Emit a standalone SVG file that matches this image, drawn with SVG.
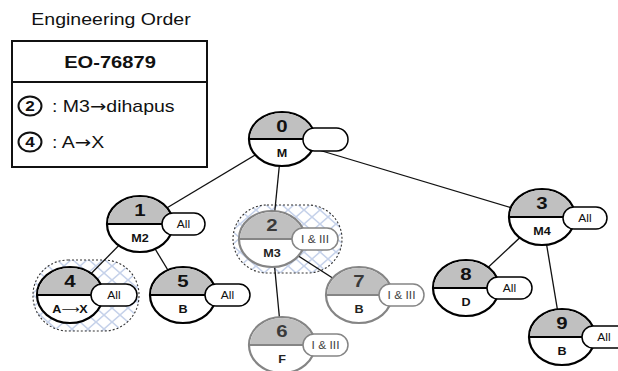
<svg xmlns="http://www.w3.org/2000/svg" width="618" height="371" viewBox="0 0 618 371">
  <defs>
    <!-- light blue diamond lattice used for the highlighted nodes -->
    <pattern id="lattice" patternUnits="userSpaceOnUse" width="16" height="14">
      <path d="M0,0 L16,14 M16,0 L0,14" stroke="#c6d2ea" stroke-width="1.6" fill="none"/>
    </pattern>
  </defs>
  <style>
    text { font-family: "Liberation Sans", Arial, sans-serif; }
    .arrow { font-family: "DejaVu Sans", sans-serif; font-weight: normal; }
    .title { font-size: 16px; fill: #111; text-anchor: middle; }
    .eo-head { font-size: 16.5px; font-weight: bold; fill: #111; text-anchor: middle; }
    .eo-row { font-size: 16px; fill: #111; }
    .eo-num { font-size: 14px; font-weight: bold; fill: #111; text-anchor: middle; }
    .box { fill: #fff; stroke: #111; stroke-width: 2; }
    .edge { stroke: #111; stroke-width: 1.3; fill: none; }
    .zone { fill: url(#lattice); stroke: #333; stroke-width: 1.1; stroke-dasharray: 2 2; }
    .body { fill: #fff; stroke: #000; stroke-width: 2.2; }
    .cap { fill: #c0c0c0; }
    .split { stroke: #000; stroke-width: 2.2; }
    .num { font-size: 17px; font-weight: bold; text-anchor: middle; fill: #111; }
    .lbl { font-size: 10.5px; font-weight: bold; text-anchor: middle; fill: #111; }
    .pill { fill: #fff; stroke: #000; stroke-width: 1.5; }
    .ptxt { font-size: 10px; text-anchor: middle; fill: #111; }
    .dim .body { stroke: #858585; }
    .dim .split { stroke: #858585; }
    .dim .pill { stroke: #858585; }
    .dim .num { fill: #3a3a3a; }
    .dim .lbl { fill: #222; }
    .dim .ptxt { fill: #444; }
  </style>

  <!-- order legend -->
  <g id="legend">
    <text class="title" transform="translate(111 25) scale(1.22 1)">Engineering Order</text>
    <rect class="box" x="12" y="41" width="195" height="126"/>
    <line x1="12" y1="82" x2="207" y2="82" stroke="#111" stroke-width="2"/>
    <text class="eo-head" transform="translate(110 68) scale(1.22 1)">EO-76879</text>
    <ellipse cx="30" cy="106" rx="11.5" ry="9.5" fill="#fff" stroke="#111" stroke-width="2"/>
    <text class="eo-num" transform="translate(30 111) scale(1.22 1)">2</text>
    <text class="eo-row" transform="translate(52 112) scale(1.22 1)">: M3<tspan class="arrow">→</tspan>dihapus</text>
    <ellipse cx="30" cy="142" rx="11.5" ry="9.5" fill="#fff" stroke="#111" stroke-width="2"/>
    <text class="eo-num" transform="translate(30 147) scale(1.22 1)">4</text>
    <text class="eo-row" transform="translate(52 148) scale(1.22 1)">: A<tspan class="arrow">→</tspan>X</text>
  </g>

  <!-- highlighted zones -->
  <g id="zones">
    <rect class="zone" x="33" y="260" width="106" height="71" rx="35" ry="35"/>
    <rect class="zone" x="233" y="205" width="109" height="68" rx="34" ry="34"/>
  </g>

  <!-- connectors -->
  <g id="connectors">
    <line class="edge" x1="282" y1="139" x2="140" y2="224"/>
    <line class="edge" x1="282" y1="139" x2="272" y2="239"/>
    <line class="edge" x1="282" y1="139" x2="542" y2="217"/>
    <line class="edge" x1="140" y1="224" x2="70" y2="295"/>
    <line class="edge" x1="140" y1="224" x2="183" y2="295"/>
    <line class="edge" x1="272" y1="239" x2="282" y2="345"/>
    <line class="edge" x1="272" y1="239" x2="359" y2="295"/>
    <line class="edge" x1="542" y1="217" x2="466" y2="288"/>
    <line class="edge" x1="542" y1="217" x2="562" y2="337"/>
  </g>

  <!-- nodes -->
  <g id="node0">
    <ellipse class="body" cx="282" cy="139" rx="33" ry="27"/>
    <path class="cap" d="M250,139 A32,26 0 0 1 314,139 Z"/>
    <line class="split" x1="249" y1="139" x2="315" y2="139"/>
    <text class="num" transform="translate(282 132) scale(1.2 1)">0</text>
    <text class="lbl" transform="translate(282 157) scale(1.2 1)">M</text>
    <rect class="pill" x="303" y="128" width="45" height="23" rx="11.5"/>
  </g>

  <g id="node1">
    <ellipse class="body" cx="140" cy="224" rx="33" ry="28"/>
    <path class="cap" d="M108,224 A32,27 0 0 1 172,224 Z"/>
    <line class="split" x1="107" y1="224" x2="173" y2="224"/>
    <text class="num" transform="translate(140 216) scale(1.2 1)">1</text>
    <text class="lbl" transform="translate(140 242) scale(1.2 1)">M2</text>
    <rect class="pill" x="162" y="213" width="43" height="22" rx="11"/>
    <text class="ptxt" transform="translate(183.5 228) scale(1.2 1)">All</text>
  </g>

  <g id="node2" class="dim">
    <ellipse class="body" cx="272" cy="239" rx="33" ry="28"/>
    <path class="cap" d="M240,239 A32,27 0 0 1 304,239 Z"/>
    <line class="split" x1="239" y1="239" x2="305" y2="239"/>
    <text class="num" transform="translate(272 231) scale(1.2 1)">2</text>
    <text class="lbl" transform="translate(272 257) scale(1.2 1)">M3</text>
    <rect class="pill" x="292" y="228" width="46" height="22" rx="11"/>
    <text class="ptxt" transform="translate(315 243) scale(1.2 1)">I &amp; III</text>
  </g>

  <g id="node3">
    <ellipse class="body" cx="542" cy="217" rx="33" ry="28"/>
    <path class="cap" d="M510,217 A32,27 0 0 1 574,217 Z"/>
    <line class="split" x1="509" y1="217" x2="575" y2="217"/>
    <text class="num" transform="translate(542 209) scale(1.2 1)">3</text>
    <text class="lbl" transform="translate(542 235) scale(1.2 1)">M4</text>
    <rect class="pill" x="563" y="207" width="44" height="22" rx="11"/>
    <text class="ptxt" transform="translate(585 222) scale(1.2 1)">All</text>
  </g>

  <g id="node4">
    <ellipse class="body" cx="70" cy="295" rx="33" ry="28"/>
    <path class="cap" d="M38,295 A32,27 0 0 1 102,295 Z"/>
    <line class="split" x1="37" y1="295" x2="103" y2="295"/>
    <text class="num" transform="translate(70 287) scale(1.2 1)">4</text>
    <text class="lbl" transform="translate(70 313) scale(1.2 1)">A<tspan class="arrow">⟶</tspan>X</text>
    <rect class="pill" x="91" y="284" width="46" height="22" rx="11"/>
    <text class="ptxt" transform="translate(114 299) scale(1.2 1)">All</text>
  </g>

  <g id="node5">
    <ellipse class="body" cx="183" cy="295" rx="33" ry="28"/>
    <path class="cap" d="M151,295 A32,27 0 0 1 215,295 Z"/>
    <line class="split" x1="150" y1="295" x2="216" y2="295"/>
    <text class="num" transform="translate(183 287) scale(1.2 1)">5</text>
    <text class="lbl" transform="translate(183 313) scale(1.2 1)">B</text>
    <rect class="pill" x="205" y="284" width="45" height="22" rx="11"/>
    <text class="ptxt" transform="translate(227.5 299) scale(1.2 1)">All</text>
  </g>

  <g id="node6" class="dim">
    <ellipse class="body" cx="282" cy="345" rx="33" ry="28"/>
    <path class="cap" d="M250,345 A32,27 0 0 1 314,345 Z"/>
    <line class="split" x1="249" y1="345" x2="315" y2="345"/>
    <text class="num" transform="translate(282 337) scale(1.2 1)">6</text>
    <text class="lbl" transform="translate(282 363) scale(1.2 1)">F</text>
    <rect class="pill" x="303" y="334" width="45" height="22" rx="11"/>
    <text class="ptxt" transform="translate(325.5 349) scale(1.2 1)">I &amp; III</text>
  </g>

  <g id="node7" class="dim">
    <ellipse class="body" cx="359" cy="295" rx="33" ry="28"/>
    <path class="cap" d="M327,295 A32,27 0 0 1 391,295 Z"/>
    <line class="split" x1="326" y1="295" x2="392" y2="295"/>
    <text class="num" transform="translate(359 287) scale(1.2 1)">7</text>
    <text class="lbl" transform="translate(359 313) scale(1.2 1)">B</text>
    <rect class="pill" x="379" y="284" width="45" height="22" rx="11"/>
    <text class="ptxt" transform="translate(401.5 299) scale(1.2 1)">I &amp; III</text>
  </g>

  <g id="node8">
    <ellipse class="body" cx="466" cy="288" rx="33" ry="28"/>
    <path class="cap" d="M434,288 A32,27 0 0 1 498,288 Z"/>
    <line class="split" x1="433" y1="288" x2="499" y2="288"/>
    <text class="num" transform="translate(466 280) scale(1.2 1)">8</text>
    <text class="lbl" transform="translate(466 306) scale(1.2 1)">D</text>
    <rect class="pill" x="487" y="277" width="45" height="22" rx="11"/>
    <text class="ptxt" transform="translate(509.5 292) scale(1.2 1)">All</text>
  </g>

  <g id="node9">
    <ellipse class="body" cx="562" cy="337" rx="33" ry="28"/>
    <path class="cap" d="M530,337 A32,27 0 0 1 594,337 Z"/>
    <line class="split" x1="529" y1="337" x2="595" y2="337"/>
    <text class="num" transform="translate(562 329) scale(1.2 1)">9</text>
    <text class="lbl" transform="translate(562 355) scale(1.2 1)">B</text>
    <rect class="pill" x="582" y="326" width="46" height="22" rx="11"/>
    <text class="ptxt" transform="translate(604 341) scale(1.2 1)">All</text>
  </g>
</svg>
